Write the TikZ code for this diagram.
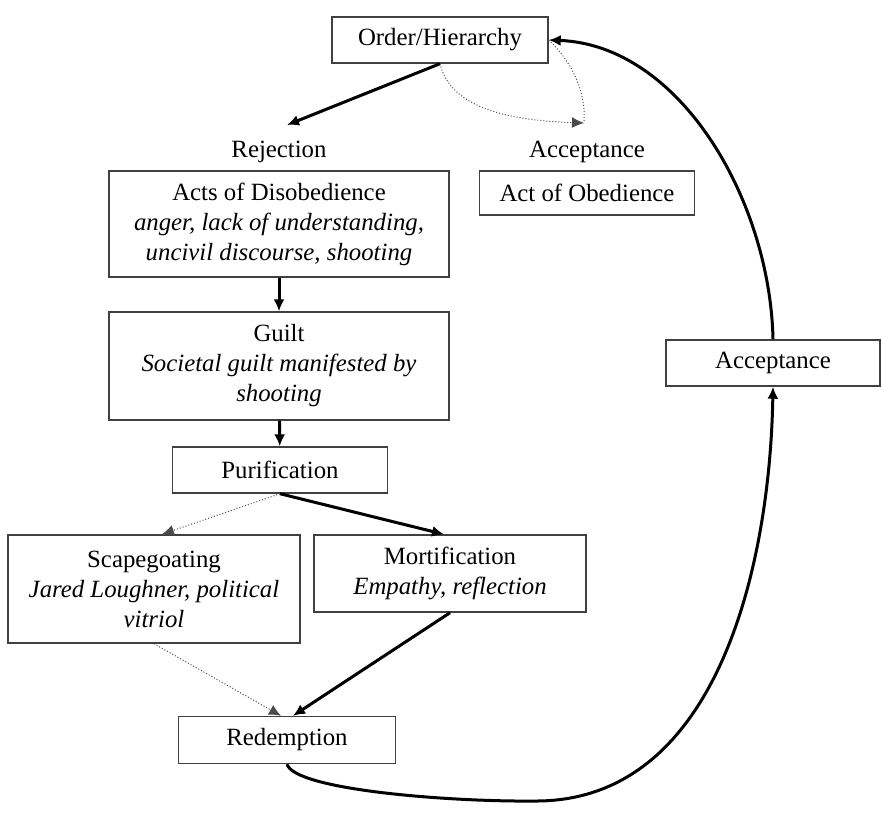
\documentclass[tikz,border=0pt]{standalone}
\usepackage{fontspec}
\setmainfont{Liberation Serif}
\usetikzlibrary{positioning,arrows.meta}

\begin{document}
\begin{tikzpicture}[x=0.5pt, y=-0.5pt, >={Latex[length=6pt,width=5.5pt]},
  font=\fontsize{12.4}{15}\selectfont,
  stage/.style={draw=black!75, line width=0.7pt, align=center, inner sep=2pt},
  heavy/.style={->, line width=1.5pt},
  faint/.style={line width=0.5pt, densely dotted, black!70}]
  \useasboundingbox (0,0) rectangle (882,815);
  \node[stage, minimum width=108pt, minimum height=23pt] (ord) at (440,40) {Order/Hierarchy};
  \node[stage, minimum width=170pt, minimum height=53pt] (acts) at (279,224)
    {Acts of Disobedience\\ \textit{anger, lack of understanding,}\\ \textit{uncivil discourse, shooting}};
  \node[above=0pt of acts] (rej) {Rejection};
  \node[stage, minimum width=107.5pt, minimum height=22pt] (obey) at (587,193) {Act of Obedience};
  \node[above=0pt of obey] (accl) {Acceptance};
  \node[stage, minimum width=170pt, minimum height=54pt] (guilt) at (279,366)
    {Guilt\\ \textit{Societal guilt manifested by}\\ \textit{shooting}};
  \node[stage, minimum width=107.5pt, minimum height=23pt] (puri) at (280,470) {Purification};
  \node[stage, minimum width=146pt, minimum height=54pt] (scape) at (154,589)
    {Scapegoating\\ \textit{Jared Loughner, political}\\ \textit{vitriol}};
  \node[stage, minimum width=136pt, minimum height=38.5pt] (mort) at (450,573.5)
    {Mortification\\ \textit{Empathy, reflection}};
  \node[stage, minimum width=108.5pt, minimum height=23.5pt] (red) at (287,740) {Redemption};
  \node[stage, minimum width=107pt, minimum height=23pt] (accbox) at (773,363) {Acceptance};
  \coordinate (rejtip) at (287,125);
  \coordinate (acctip) at (584,123);
  \coordinate (low) at (537,801);
  % top split
  \draw[heavy] (ord.south) -- (rejtip);
  \draw[faint, ->] (ord.south) .. controls (450,105) and (500,120) .. (acctip);
  \draw[faint] (ord.east) .. controls (575,65) and (586,95) .. (acctip);
  % rejection branch
  \draw[heavy] (acts) -- (guilt);
  \draw[heavy] (guilt) -- (puri);
  \draw[faint, ->] (puri.south) -- ([xshift=4pt]scape.north);
  \draw[heavy] (puri.south) -- ([xshift=-3pt]mort.north);
  \draw[faint, ->] (scape.south) -- ([xshift=-3pt]red.north);
  \draw[heavy] (mort.south) -- ([xshift=3pt]red.north);
  % back to the top
  \draw[heavy] (red.south) .. controls (295,790) and (450,802) .. (low)
    .. controls (720,800) and (770,560) .. (accbox.south);
  \draw[heavy] (accbox.north) .. controls (770,200) and (680,45) .. (ord.east);
\end{tikzpicture}
\end{document}
